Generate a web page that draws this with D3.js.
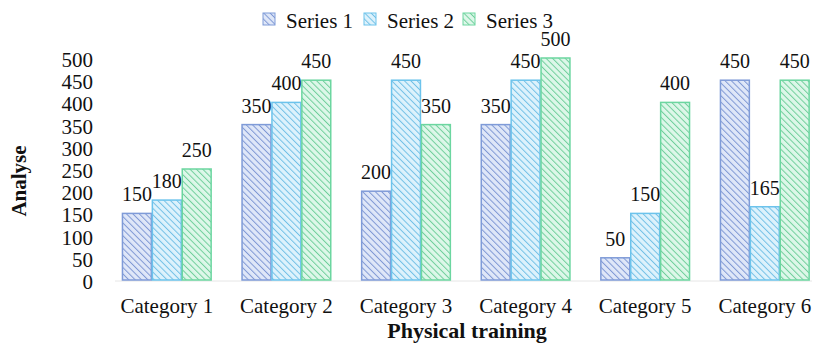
<html>
  <head>
    <title>Physical training bars</title>
    <style>
      body { margin: 0; background: #fff; }
      text { font-family: "Liberation Serif", "Times New Roman", serif; fill: #111; }
    </style>
  </head>
  <body>
    <script type="text/javascript" src="https://d3js.org/d3.v7.min.js"></script>
    <script type="text/javascript">
    var categories = ["Category 1", "Category 2", "Category 3", "Category 4", "Category 5", "Category 6"];
    var seriesNames = ["Series 1", "Series 2", "Series 3"];
    var series1 = [150, 350, 200, 350, 50, 450];
    var series2 = [180, 400, 450, 450, 150, 165];
    var series3 = [250, 450, 350, 500, 400, 450];
    var yTicks = [0, 50, 100, 150, 200, 250, 300, 350, 400, 450, 500];

    var width = 814, height = 343;
    var stroke = ["#7f9bd8", "#6cc3ec", "#6cd6a0"];
    var bg = ["#dfe7f8", "#ddf2fc", "#ddf7e9"];
    var hatch = ["#7f98d4", "#72c0e6", "#6fcf9b"];

    var svg = d3.select('body')
      .append('svg')
        .attr('width', width)
        .attr('height', height);

    // hatch patterns, lines going down to the right
    var defs = svg.append('defs');
    seriesNames.forEach(function(s, i) {
      var p = defs.append('pattern')
        .attr('id', 'hatch' + i)
        .attr('patternUnits', 'userSpaceOnUse')
        .attr('width', 4.5)
        .attr('height', 4.5)
        .attr('patternTransform', 'rotate(-45)');
      p.append('rect').attr('width', 4.5).attr('height', 4.5).attr('fill', bg[i]);
      p.append('line')
        .attr('x1', 0).attr('y1', 0).attr('x2', 0).attr('y2', 4.5)
        .attr('stroke', hatch[i]).attr('stroke-width', 2);
    });

    var x = d3.scaleBand()
      .domain(categories)
      .range([107, 824.6])
      .paddingInner(0.25)
      .paddingOuter(0.125);

    var xs = d3.scaleBand()
      .domain(seriesNames)
      .range([0, x.bandwidth()]);

    var y = d3.scaleLinear()
      .domain([0, 500])
      .range([280, 58]);

    var yAxis = d3.axisLeft(y)
      .tickValues(yTicks)
      .tickSize(0)
      .tickPadding(0);

    var gy = svg.append('g')
      .attr('transform', 'translate(93,0)')
      .call(yAxis);
    gy.select('.domain').remove();
    gy.selectAll('text')
      .attr('dy', '0.4em')
      .style('font-family', '"Liberation Serif", serif')
      .style('font-size', '21px')
      .attr('fill', '#111');

    // faint baseline
    svg.append('line')
      .attr('x1', x.range()[0] + 8).attr('x2', 812)
      .attr('y1', y(0) + 1).attr('y2', y(0) + 1)
      .attr('stroke', '#e6e6e6');

    var data = [series1, series2, series3];
    var rows = categories.map(function(c, ci) {
      return seriesNames.map(function(s, si) {
        return { cat: c, s: s, i: si, v: data[si][ci] };
      });
    });

    var groups = svg.selectAll('.grp')
      .data(rows)
      .enter().append('g')
        .attr('class', 'grp')
        .attr('transform', function(d, i) { return 'translate(' + x(categories[i]) + ',0)'; });

    groups.selectAll('rect')
      .data(function(d) { return d; })
      .enter().append('rect')
        .attr('x', function(d) { return xs(d.s) + 0.5; })
        .attr('y', function(d) { return y(d.v); })
        .attr('width', xs.bandwidth() - 1)
        .attr('height', function(d) { return y(0) - y(d.v); })
        .attr('fill', function(d) { return 'url(#hatch' + d.i + ')'; })
        .attr('stroke', function(d) { return stroke[d.i]; })
        .attr('stroke-width', 1.5);

    groups.selectAll('.lbl')
      .data(function(d) { return d; })
      .enter().append('text')
        .attr('class', 'lbl')
        .attr('x', function(d) { return xs(d.s) + xs.bandwidth() / 2; })
        .attr('y', function(d) { return y(d.v) - 12; })
        .attr('text-anchor', 'middle')
        .style('font-size', '20px')
        .text(function(d) { return d.v; });

    // category labels
    var xAxis = d3.axisBottom(x).tickSize(0).tickPadding(0);
    var gx = svg.append('g')
      .attr('transform', 'translate(0,298)')
      .call(xAxis);
    gx.select('.domain').remove();
    gx.selectAll('text')
      .style('font-family', '"Liberation Serif", serif')
      .style('font-size', '21px')
      .attr('fill', '#111');

    svg.append('text')
      .attr('x', 467)
      .attr('y', 338)
      .attr('text-anchor', 'middle')
      .style('font-size', '22px')
      .style('font-weight', 'bold')
      .text('Physical training');

    svg.append('text')
      .attr('transform', 'translate(26,181) rotate(-90)')
      .attr('text-anchor', 'middle')
      .style('font-size', '21px')
      .style('font-weight', 'bold')
      .text('Analyse');

    // legend
    var legendX = [263, 364, 463];
    var lg = svg.selectAll('.leg')
      .data(seriesNames)
      .enter().append('g')
        .attr('class', 'leg')
        .attr('transform', function(d, i) { return 'translate(' + legendX[i] + ',13)'; });
    lg.append('rect')
      .attr('width', 12).attr('height', 12)
      .attr('fill', function(d, i) { return 'url(#hatch' + i + ')'; })
      .attr('stroke', function(d, i) { return stroke[i]; })
      .attr('stroke-width', 1);
    lg.append('text')
      .attr('x', 23)
      .attr('y', 15)
      .style('font-size', '21px')
      .text(function(d) { return d; });
    </script>
  </body>
</html>
